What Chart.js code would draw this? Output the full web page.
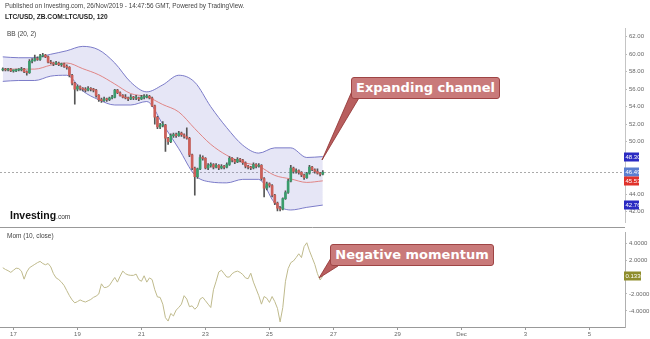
<!DOCTYPE html>
<html>
<head>
<meta charset="utf-8">
<script src="https://cdn.jsdelivr.net/npm/chart.js@4.4.1/dist/chart.umd.min.js"></script>
<style>
  html, body { margin: 0; padding: 0; background: #fff; }
  body { width: 650px; height: 339px; position: relative; overflow: hidden; font-family: 'Liberation Sans', Arial, sans-serif; }
  canvas { position: absolute; left: 0; }
  #precoChart { top: 0; }
  #momChart { top: 227px; }
  .txt { position: absolute; white-space: nowrap; color: #444; font-size: 6.5px; line-height: 8px; }
  .balao { position: absolute; background: #c97a7a; border: 1px solid #9e4444; border-radius: 3px; color: #fff;
           font-family: 'DejaVu Sans', Verdana, sans-serif; font-weight: bold; font-size: 13px; line-height: 20px;
           text-align: center; white-space: nowrap; }
  svg { position: absolute; left: 0; top: 0; }
</style>
</head>
<body>
<canvas id="precoChart" width="650" height="228"></canvas>
<canvas id="momChart" width="650" height="112"></canvas>

<div class="txt" style="left:5px; top:2px; font-size:6.4px;">Published on Investing.com, 26/Nov/2019 - 14:47:56 GMT, Powered by TradingView.</div>
<div class="txt" style="left:5px; top:13px; font-weight:bold; color:#222; font-size:6.6px;">LTC/USD, ZB.COM:LTC/USD, 120</div>
<div class="txt" style="left:7px; top:30px;">BB (20, 2)</div>
<div class="txt" style="left:7px; top:232px;">Mom (10, close)</div>
<div class="txt" style="left:10px; top:209px; font-size:10.5px; line-height:12px; color:#111; font-weight:bold;">Investing<span style="font-size:6.5px; font-weight:normal; color:#333;">.com</span></div>

<svg width="650" height="339">
  <polygon points="352,91 359,98 322,160" fill="#b85e5e" stroke="#8e2f2f" stroke-width="0.8"/>
  <polygon points="331,258 338,266 319,278" fill="#b85e5e" stroke="#8e2f2f" stroke-width="0.8"/>
</svg>
<div class="balao" style="left:351px; top:77px; width:147px; height:20px;">Expanding channel</div>
<div class="balao" style="left:330px; top:244px; width:162px; height:20px;">Negative momentum</div>

<script>
// Eixo do tempo: dias de novembro (1/Dez = 31)
const inicioDia = 16 + 16 / 24; // primeira vela: 16/Nov 16:00
const passoDia = 2 / 24;        // velas de 2 horas
const passoBanda = 12 / 24;     // bandas lidas a cada 12 horas
const xMin = 16.58, xMax = 36.11;

const diasTicks = [17, 19, 21, 23, 25, 27, 29, 31, 33, 35];
const rotulosTicks = ['17', '19', '21', '23', '25', '27', '29', 'Dec', '3', '5'];

// Velas LTC/USD (2h)
const abertura = [58.2,58.3,58.2,58.3,58.1,58.1,58.2,58.2,58.3,58.0,
  57.9,59.2,59.3,59.5,59.4,59.8,59.9,59.7,59.1,59.0,
  58.9,59.0,58.8,58.9,58.6,58.5,57.6,56.7,56.0,56.3,
  56.1,56.0,55.9,56.1,56.0,55.9,55.3,54.8,54.7,54.9,
  54.8,55.0,55.1,55.9,55.6,55.3,55.1,55.0,54.9,55.1,
  55.0,55.0,54.9,55.1,55.1,55.2,55.0,54.1,52.8,51.7,
  51.9,51.9,50.4,50.0,50.7,50.8,50.7,51.0,50.8,50.6,
  50.4,48.5,47.0,46.0,46.9,48.2,48.1,47.0,47.3,47.4,
  47.1,47.3,47.0,47.2,47.1,47.4,48.1,47.9,47.7,48.0,
  47.9,47.6,47.2,47.1,47.0,47.4,47.2,47.3,45.8,44.7,
  45.2,45.0,43.9,43.0,42.4,42.3,43.5,44.2,45.5,47.0,
  46.6,46.7,46.5,46.2,45.9,46.4,47.1,46.8,46.6,46.4,
  46.3];
const maxima = [58.45,58.4,58.4,58.4,58.2,58.3,58.35,58.5,58.4,58.1,
  59.4,59.5,59.9,59.7,60.0,60.1,60.0,59.8,59.3,59.1,
  59.2,59.1,59.0,59.0,58.8,58.6,57.7,56.8,56.5,56.4,
  56.2,56.2,56.3,56.2,56.1,56.0,55.4,55.0,55.1,55.0,
  55.1,55.3,56.0,56.0,55.7,55.4,55.4,55.1,55.4,55.2,
  55.3,55.1,55.3,55.4,55.4,55.3,55.1,54.2,52.9,52.1,
  52.3,52.0,50.5,50.9,51.0,51.0,51.2,51.1,50.9,51.6,
  50.5,48.6,47.1,47.0,48.5,48.4,48.2,47.5,47.6,47.5,
  47.5,47.4,47.4,47.3,47.6,48.3,48.2,48.0,48.2,48.1,
  48.0,47.7,47.3,47.2,47.6,47.5,47.5,47.4,45.9,45.4,
  45.3,45.1,44.0,43.1,42.6,43.6,44.4,45.7,47.3,47.1,
  46.9,46.8,46.6,46.3,46.5,47.3,47.2,46.9,46.9,46.5,
  46.7];
const minima = [58.1,58.1,58.1,58.0,57.95,58.0,58.1,58.1,57.9,57.6,
  57.8,59.0,59.2,59.3,59.3,59.7,59.6,59.0,58.9,58.7,
  58.8,58.7,58.6,58.5,58.3,57.4,56.5,54.3,55.8,55.9,
  55.8,55.7,55.8,55.8,55.7,55.1,54.6,54.5,54.6,54.6,
  54.7,54.9,55.0,55.5,55.2,55.0,54.9,54.7,54.8,54.8,
  54.8,54.7,54.8,54.9,55.0,54.9,54.0,52.0,51.5,51.5,
  51.7,48.9,49.7,49.9,50.5,50.5,50.6,50.6,50.4,50.3,
  48.3,46.8,43.9,45.8,46.8,47.9,46.9,46.8,47.1,46.9,
  47.0,46.8,46.9,46.9,47.0,47.3,47.7,47.5,47.6,47.7,
  47.4,47.0,46.9,46.8,46.9,47.0,47.1,45.6,43.7,44.5,
  44.8,43.7,42.8,42.1,42.1,42.2,43.4,44.1,45.4,46.4,
  46.4,46.3,46.0,45.7,45.8,46.3,46.7,46.4,46.3,46.1,
  46.2];
const fechamento = [58.3,58.2,58.3,58.1,58.1,58.2,58.2,58.3,58.0,57.9,
  59.2,59.3,59.5,59.4,59.8,59.9,59.7,59.1,59.0,58.9,
  59.0,58.8,58.9,58.6,58.5,57.6,56.7,56.0,56.3,56.1,
  56.0,55.9,56.1,56.0,55.9,55.3,54.8,54.7,54.9,54.8,
  55.0,55.1,55.9,55.6,55.3,55.1,55.0,54.9,55.1,55.0,
  55.0,54.9,55.1,55.1,55.2,55.0,54.1,52.8,51.7,51.9,
  51.9,50.4,50.0,50.7,50.8,50.7,51.0,50.8,50.6,50.4,
  48.5,47.0,46.0,46.9,48.2,48.1,47.0,47.3,47.4,47.1,
  47.3,47.0,47.2,47.1,47.4,48.1,47.9,47.7,48.0,47.9,
  47.6,47.2,47.1,47.0,47.4,47.2,47.3,45.8,44.7,45.2,
  45.0,43.9,43.0,42.4,42.3,43.5,44.2,45.5,47.0,46.6,
  46.7,46.5,46.2,45.9,46.4,47.1,46.8,46.6,46.4,46.3,
  46.49];

// Bandas de Bollinger (20, 2), lidas a cada 12h
const bandaSup = [59.7,59.6,59.6,60.0,60.4,60.9,60.5,59.0,56.8,55.7,
  56.5,57.6,56.8,54.0,51.6,49.6,48.7,49.3,49.3,48.2,48.30];
const bandaMedia = [58.3,58.3,58.3,58.75,59.0,58.35,57.65,56.6,55.5,55.15,
  54.25,53.4,51.5,49.7,48.45,47.65,47.2,46.15,45.75,45.35,45.53];
const bandaInf = [56.9,57.0,57.0,57.5,57.6,55.8,54.8,54.2,54.2,54.6,
  52.0,49.2,46.2,45.4,45.3,45.7,45.7,43.0,42.2,42.5,42.76];

// Momentum (10, close)
const momento = [1.1,0.9,0.75,0.55,0.8,1.05,1.0,0.7,-0.25,0.6,
  1.1,1.3,1.5,1.7,1.85,1.6,1.45,1.6,1.2,0.4,
  -0.1,-0.3,-0.6,-1.0,-1.6,-2.2,-2.7,-3.05,-2.9,-2.7,
  -2.85,-2.95,-2.8,-2.65,-2.4,-2.25,-2.0,-0.8,-1.25,-1.2,
  -1.0,-0.5,-0.05,-0.6,0.1,0.7,0.4,0.25,0.2,0.2,
  0.35,-0.3,-0.5,0.15,-0.6,-0.1,-0.3,-1.5,-2.35,-2.4,
  -3.2,-4.8,-5.2,-4.3,-4.6,-3.9,-3.6,-3.2,-2.2,-2.6,
  -3.5,-3.4,-3.8,-3.5,-2.6,-2.4,-2.8,-3.2,-3.6,-1.5,
  -0.5,0.6,0.8,0.4,0.0,0.0,0.4,0.6,0.7,0.55,
  0.3,-0.1,-0.2,0.45,-0.6,-1.4,-2.2,-3.2,-2.3,-2.5,
  -3.0,-2.3,-2.9,-3.7,-5.3,-3.6,-0.5,1.0,1.7,1.9,
  2.3,2.75,2.3,3.6,4.05,3.1,2.3,1.5,0.4,-0.35,
  0.133];

const corAlta = '#3a9c6c';
const corBaixa = '#cc5f59';

function diaVela(i) { return inicioDia + i * passoDia; }
function diaBanda(k) { return inicioDia + k * passoBanda; }

const ultimo = fechamento.length - 1;
const marcadoresPreco = [
  { valor: bandaSup[bandaSup.length - 1], cor: '#2a2ac2' },
  { valor: fechamento[ultimo], cor: '#5a7ed0' },
  { valor: bandaMedia[bandaMedia.length - 1], cor: '#e0322b' },
  { valor: bandaInf[bandaInf.length - 1], cor: '#2a2ac2' }
];

// Eixo direito com largura fixa para alinhar os dois painéis
function larguraFixa(scale) { scale.width = 25; }

function ticksDias(scale) {
  scale.ticks = diasTicks.map(v => ({ value: v }));
}

// Linha pontilhada do último preço
const linhaPreco = {
  id: 'linhaPreco',
  beforeDatasetsDraw(chart) {
    const { ctx, chartArea, scales } = chart;
    const y = Math.round(scales.y.getPixelForValue(fechamento[ultimo])) + 0.5;
    ctx.save();
    ctx.strokeStyle = '#aaa';
    ctx.lineWidth = 1;
    ctx.setLineDash([2, 2]);
    ctx.beginPath();
    ctx.moveTo(chartArea.left, y);
    ctx.lineTo(chartArea.right, y);
    ctx.stroke();
    ctx.restore();
  }
};

function desenharEtiqueta(ctx, x, y, texto, cor) {
  ctx.fillStyle = cor;
  ctx.fillRect(x, y - 4.5, 15, 9);
  ctx.fillStyle = '#fff';
  ctx.font = '6px "Liberation Sans", Arial';
  ctx.textAlign = 'left';
  ctx.textBaseline = 'middle';
  ctx.fillText(texto, x + 1.5, y + 0.5);
}

const etiquetasPreco = {
  id: 'etiquetasPreco',
  afterDraw(chart) {
    const { ctx, scales, chartArea } = chart;
    ctx.save();
    marcadoresPreco.forEach(m => {
      const y = Math.round(scales.y.getPixelForValue(m.valor));
      desenharEtiqueta(ctx, chartArea.right - 1, y, m.valor.toFixed(2), m.cor);
    });
    ctx.restore();
  }
};

const etiquetaMom = {
  id: 'etiquetaMom',
  afterDraw(chart) {
    const { ctx, scales, chartArea } = chart;
    ctx.save();
    // separador entre os painéis
    ctx.strokeStyle = '#999';
    ctx.lineWidth = 1;
    ctx.beginPath();
    ctx.moveTo(0, 0.5);
    ctx.lineTo(chartArea.right, 0.5);
    ctx.stroke();
    const v = momento[momento.length - 1];
    const y = Math.round(scales.y.getPixelForValue(v));
    ctx.fillStyle = '#8f8d2c';
    ctx.fillRect(chartArea.right - 1, y - 4.5, 17, 9);
    ctx.fillStyle = '#fff';
    ctx.font = '6px "Liberation Sans", Arial';
    ctx.textBaseline = 'middle';
    ctx.fillText(v.toFixed(4), chartArea.right + 0.5, y + 0.5);
    ctx.restore();
  }
};

const fonteEixo = { family: '"Liberation Sans", Arial', size: 6 };

// Gráfico de preço
new Chart(document.getElementById('precoChart'), {
  type: 'bar',
  data: {
    datasets: [
      {
        type: 'line', label: 'Superior',
        data: bandaSup.map((v, k) => ({ x: diaBanda(k), y: v })),
        borderColor: '#7b7bc8', borderWidth: 1, pointRadius: 0,
        fill: '+2', backgroundColor: 'rgba(130,130,210,0.2)',
        cubicInterpolationMode: 'monotone', order: 5
      },
      {
        type: 'line', label: 'Média',
        data: bandaMedia.map((v, k) => ({ x: diaBanda(k), y: v })),
        borderColor: '#e08585', borderWidth: 1, pointRadius: 0, fill: false,
        cubicInterpolationMode: 'monotone', order: 4
      },
      {
        type: 'line', label: 'Inferior',
        data: bandaInf.map((v, k) => ({ x: diaBanda(k), y: v })),
        borderColor: '#7b7bc8', borderWidth: 1, pointRadius: 0, fill: false,
        cubicInterpolationMode: 'monotone', order: 5
      },
      {
        label: 'Pavio',
        data: fechamento.map((c, i) => ({ x: diaVela(i), y: [minima[i], maxima[i]] })),
        backgroundColor: '#555', barThickness: 1, grouped: false, order: 2
      },
      {
        label: 'Corpo',
        data: fechamento.map((c, i) => ({ x: diaVela(i), y: [abertura[i], c] })),
        backgroundColor: fechamento.map((c, i) => c >= abertura[i] ? corAlta : corBaixa),
        barThickness: 2, minBarLength: 1, grouped: false, order: 1
      }
    ]
  },
  options: {
    responsive: false,
    animation: false,
    layout: { padding: { top: 28, left: 0, right: 0, bottom: 0 } },
    plugins: { legend: { display: false }, tooltip: { enabled: false } },
    scales: {
      x: { type: 'linear', min: xMin, max: xMax, offset: false, display: false, stacked: false },
      y: {
        position: 'right', min: 40.78, max: 63,
        afterFit: larguraFixa,
        grid: { drawOnChartArea: false, tickLength: 2, color: '#bbb' },
        border: { color: '#c4c4c4' },
        ticks: {
          stepSize: 2, includeBounds: false, padding: 2, color: '#666', font: fonteEixo,
          callback: v => marcadoresPreco.some(m => Math.abs(m.valor - v) < 0.6) ? '' : v.toFixed(2)
        }
      }
    }
  },
  plugins: [linhaPreco, etiquetasPreco]
});

// Gráfico de momentum
new Chart(document.getElementById('momChart'), {
  type: 'line',
  data: {
    datasets: [{
      label: 'Mom',
      data: momento.map((v, i) => ({ x: diaVela(i), y: v })),
      borderColor: '#bfba8c', borderWidth: 1, pointRadius: 0, tension: 0
    }]
  },
  options: {
    responsive: false,
    animation: false,
    layout: { padding: { top: 1, left: 0, right: 0, bottom: 0 } },
    plugins: { legend: { display: false }, tooltip: { enabled: false } },
    scales: {
      x: {
        type: 'linear', min: xMin, max: xMax,
        afterBuildTicks: ticksDias,
        afterFit: scale => { scale.height = 12; },
        grid: { drawOnChartArea: false, tickLength: 3, color: '#999' },
        border: { color: '#999' },
        ticks: {
          padding: 1, color: '#666', font: fonteEixo, maxRotation: 0, autoSkip: false,
          callback: v => rotulosTicks[diasTicks.indexOf(v)]
        }
      },
      y: {
        position: 'right', min: -5.9, max: 5.25,
        afterFit: larguraFixa,
        grid: { drawOnChartArea: false, tickLength: 2, color: '#bbb' },
        border: { color: '#b0b0b0' },
        ticks: {
          stepSize: 2, includeBounds: false, padding: 2, color: '#666', font: fonteEixo,
          callback: v => Math.abs(v) < 0.5 ? '' : v.toFixed(4)
        }
      }
    }
  },
  plugins: [etiquetaMom]
});
</script>
</body>
</html>
